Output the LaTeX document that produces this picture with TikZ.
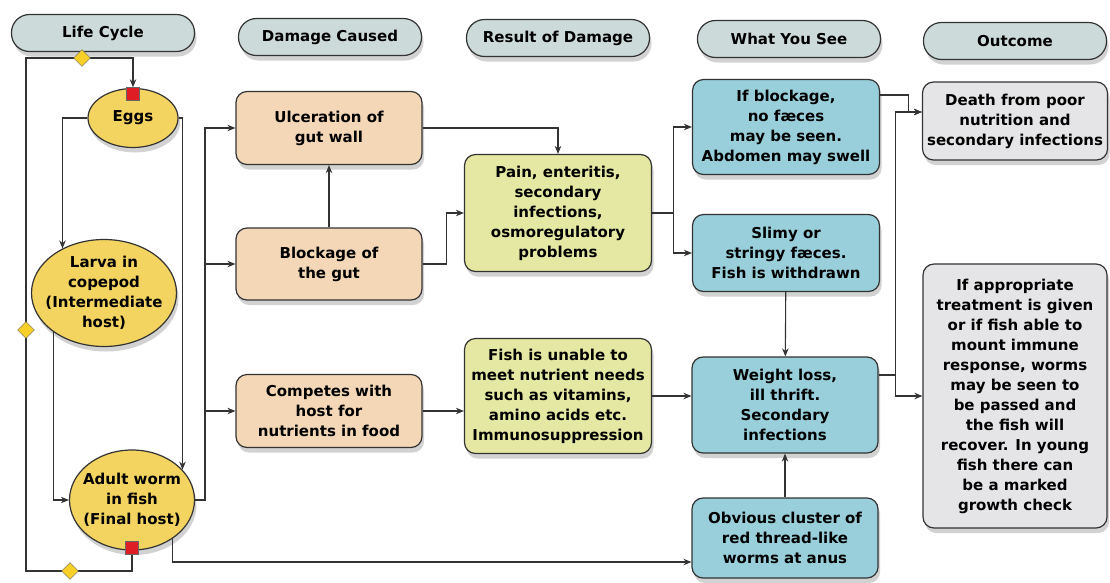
\documentclass[tikz,border=0pt]{standalone}
\usepackage{fontspec}
\setmainfont{DejaVu Sans}
\usepackage{tikz}
\usetikzlibrary{arrows.meta,shapes.geometric,shadows}

\definecolor{headc}{RGB}{204,219,217}
\definecolor{eggc}{RGB}{244,212,96}
\definecolor{dmgc}{RGB}{243,215,183}
\definecolor{resc}{RGB}{228,232,162}
\definecolor{seec}{RGB}{152,207,219}
\definecolor{outc}{RGB}{229,229,231}
\definecolor{redc}{RGB}{222,30,36}
\definecolor{diac}{RGB}{246,208,40}

\begin{document}
\begin{tikzpicture}[x=1pt,y=-1pt,>={Stealth[length=8pt,width=6.5pt]},
  every node/.style={font=\bfseries\fontsize{15}{20}\selectfont,align=center,inner sep=2pt},
  base/.style={draw=black!80,line width=1.2pt,
    drop shadow={shadow xshift=2pt,shadow yshift=-5pt,opacity=0.35}},
  head/.style={base,rectangle,rounded corners=18pt,fill=headc,minimum width=183pt,minimum height=37pt},
  cycle node/.style={base,ellipse,fill=eggc,inner xsep=-15pt,inner ysep=-10pt},
  box/.style={base,rectangle,rounded corners=11pt,minimum width=186pt},
  damage node/.style={box,fill=dmgc},
  result node/.style={box,fill=resc},
  see node/.style={box,fill=seec},
  outcome node/.style={box,fill=outc},
  square/.style={rectangle,draw=black!60,fill=redc,minimum size=13pt,inner sep=0pt},
  decision/.style={diamond,draw=black!60,fill=diac,minimum size=17pt,inner sep=0pt},
  link/.style={draw=black!80,line width=1.1pt,->}]

  \fill[white] (0,0) rectangle (1110,582);
  \useasboundingbox (0,0) rectangle (1110,582);

  \node[head] (hLife) at (103,33) {Life Cycle};
  \node[head] (hDamage) at (330,37) {Damage Caused};
  \node[head] (hResult) at (558,38) {Result of Damage};
  \node[head] (hSee) at (789,39) {What You See};
  \node[head] (hOut) at (1015,41) {Outcome};

  \node[cycle node,minimum width=90pt,minimum height=59pt] (eggs) at (133,118) {Eggs};
  \node[cycle node,minimum width=145pt,minimum height=107pt] (larva) at (104,293) {Larva in\\copepod\\(Intermediate\\host)};
  \node[cycle node,minimum width=125pt,minimum height=100pt] (adult) at (132,500) {Adult worm\\in fish\\(Final host)};
  \node[square] (sqEggs) at (133,94) {};
  \node[square] (sqAdult) at (132,548) {};

  \node[damage node,minimum height=73pt] (ulcer) at (329,128) {Ulceration of\\gut wall};
  \node[damage node,minimum height=72pt] (block) at (329,264) {Blockage of\\the gut};
  \node[damage node,minimum height=73pt] (compete) at (329,411) {Competes with\\host for\\nutrients in food};

  \node[result node,minimum width=187pt,minimum height=117pt] (pain) at (558,213) {Pain, enteritis,\\secondary\\infections,\\osmoregulatory\\problems};
  \node[result node,minimum width=187pt,minimum height=115pt] (unable) at (558,396) {Fish is unable to\\meet nutrient needs\\such as vitamins,\\amino acids etc.\\Immunosuppression};

  \node[see node,minimum width=187pt,minimum height=95pt] (ifblock) at (786,127) {If blockage,\\no fæces\\may be seen.\\Abdomen may swell};
  \node[see node,minimum width=187pt,minimum height=77pt] (slimy) at (786,253) {Slimy or\\stringy fæces.\\Fish is withdrawn};
  \node[see node,minimum height=96pt] (weight) at (785,405) {Weight loss,\\ill thrift.\\Secondary\\infections};
  \node[see node,minimum height=80pt] (cluster) at (785,538) {Obvious cluster of\\red thread-like\\worms at anus};

  \node[outcome node,minimum width=185pt,minimum height=78pt] (death) at (1015,121) {Death from poor\\nutrition and\\secondary infections};
  \node[outcome node,minimum width=184pt,minimum height=264pt] (recover) at (1015,396) {If appropriate\\treatment is given\\or if fish able to\\mount immune\\response, worms\\may be seen to\\be passed and\\the fish will\\recover. In young\\fish there can\\be a marked\\growth check};

  \coordinate (loopA) at (26,571);
  \coordinate (loopB) at (26,58);
  \coordinate (bus) at (205,500);

  \draw[link] (sqAdult.south) |- (loopA) -- (loopB) -| (sqEggs.north);
  \draw[link] (eggs.west) -| (larva.133);
  \draw[link] (larva.218) |- (adult.west);
  \draw[link] (eggs.east) -| (adult.31);
  \draw[link] (adult.east) -- (bus) |- (ulcer.west);
  \draw[link] (bus) |- (block.west);
  \draw[link] (bus) |- (compete.west);
  \draw[link] (adult.316) |- ([yshift=-24pt]cluster.west);

  \node[decision] (dTop) at (82,58) {};
  \node[decision] (dLeft) at (26,330) {};
  \node[decision] (dBottom) at (70,571) {};

  \path (block) edge[link] (ulcer);
  \draw[link] (ulcer.east) -| (pain.north);
  \draw[link] (block.east) -- ++(24,0) |- (pain.west);
  \draw[link] (compete.east) -- (compete.east -| unable.west);
  \draw[link] (pain.east) -- ++(21,0) coordinate (painbus) |- (ifblock.west);
  \draw[link] (painbus) |- (slimy.west);
  \draw[link] (unable.east) -- (unable.east -| weight.west);
  \path (slimy) edge[link] (weight)
        (cluster) edge[link] (weight);
  \draw[link] ([yshift=32pt]ifblock.east) -- ++(28,0) |- ([yshift=9pt]death.west);
  \draw[link] ([yshift=30pt]weight.east) -- ++(17,0) coordinate (wbus) |- ([yshift=9pt]death.west);
  \draw[link] (wbus) |- (recover.west);
\end{tikzpicture}
\end{document}
